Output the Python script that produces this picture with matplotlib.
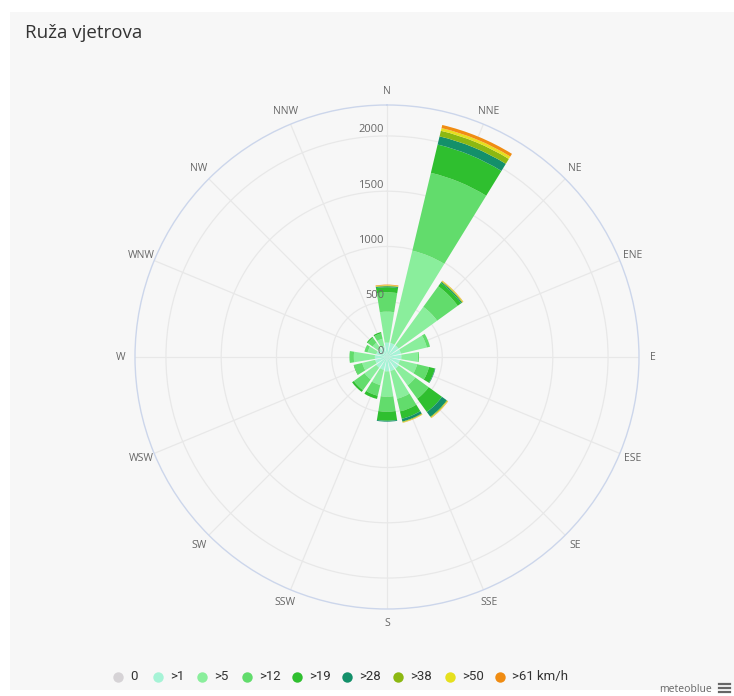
import numpy as np
import matplotlib
matplotlib.use("Agg")
import matplotlib.pyplot as plt
from matplotlib.patches import Rectangle

plt.rcParams['font.family'] = ['Open Sans', 'DejaVu Sans']

directions = ["N", "NNE", "NE", "ENE", "E", "ESE", "SE", "SSE",
              "S", "SSW", "SW", "WSW", "W", "WNW", "NW", "NNW"]
speed_labels = ["0", ">1", ">5", ">12", ">19", ">28", ">38", ">50", ">61 km/h"]
speed_colors = ["#d6d3d6", "#a6f3d6", "#8aee9c", "#62dc6c", "#2fbf2f",
                "#14906a", "#8cb812", "#e6e01e", "#f08c12"]

# hours per direction for each speed class (N ... NNW)
s_0 = [0] * 16
s_1 = [130, 130, 130, 130, 130, 120, 130, 130, 130, 120, 120, 110, 110, 100, 100, 100]
s_5 = [280, 859, 430, 240, 150, 160, 186, 258, 229, 140, 130, 120, 190, 80, 60, 70]
s_12 = [175, 724, 230, 30, 10, 110, 149, 118, 136, 100, 120, 75, 40, 30, 55, 50]
s_19 = [47, 263, 38, 0, 0, 55, 149, 69, 82, 30, 20, 5, 0, 0, 10, 12]
s_28 = [8, 76, 10, 0, 0, 5, 54, 25, 8, 0, 0, 0, 0, 0, 0, 0]
s_38 = [5, 52, 7, 0, 0, 0, 7, 6, 0, 0, 0, 0, 0, 0, 0, 0]
s_50 = [5, 25, 5, 0, 0, 0, 5, 4, 0, 0, 0, 0, 0, 0, 0, 0]
s_61 = [5, 29, 3, 0, 0, 0, 3, 2, 0, 0, 0, 0, 0, 0, 0, 0]
series = [s_0, s_1, s_5, s_12, s_19, s_28, s_38, s_50, s_61]

radial_ticks = [0, 500, 1000, 1500, 2000]
r_max = 2280

W, H = 734, 696
fig = plt.figure(figsize=(W / 100, H / 100), dpi=100)
fig.patch.set_facecolor("white")

# background / overlay axes in pixel coordinates
bg = fig.add_axes([0, 0, 1, 1], zorder=0)
bg.set_xlim(0, W)
bg.set_ylim(H, 0)
bg.axis("off")
bg.add_patch(Rectangle((10, 12), W - 10, 678, facecolor="#f7f7f7", edgecolor="none"))
bg.text(25, 33, "Ruža vjetrova", fontsize=13.5, color="#333333", va="center", ha="left")

# legend
leg_x = [118, 158, 202, 247, 297, 347, 398, 450, 500]
for x, lab, col in zip(leg_x, speed_labels, speed_colors):
    bg.plot([x], [676.5], marker="o", ms=7.5, color=col, mec="none")
    bg.text(x + 12, 676.5, lab, fontsize=9.5, color="#333333", va="center", ha="left",
            family=["Roboto", "DejaVu Sans"])
bg.text(712, 689, "meteoblue", fontsize=7.5, color="#666666", ha="right", va="center")
for dy in (-4, 0, 4):
    bg.plot([719, 730], [688 + dy, 688 + dy], color="#666666", lw=1.6)

# polar axes
cx, cy, R = 387, 357, 252
ax = fig.add_axes([(cx - R) / W, 1 - (cy + R) / H, 2 * R / W, 2 * R / H],
                  projection="polar", zorder=1)
ax.set_facecolor("none")
ax.set_theta_zero_location("N")
ax.set_theta_direction(-1)
ax.set_ylim(0, r_max)

theta = np.deg2rad(np.arange(16) * 22.5)
width = np.deg2rad(18.2)
bottom = np.zeros(16)
for vals, col in zip(series, speed_colors):
    vals = np.array(vals, dtype=float)
    ax.bar(theta, vals, width=width, bottom=bottom, color=col, edgecolor="none",
           linewidth=0, zorder=2)
    bottom += vals

ax.set_axisbelow(True)
ax.set_xticks(theta)
ax.set_xticklabels([])
ax.set_yticks(radial_ticks[1:])
ax.set_yticklabels([])
ax.grid(True, color="#e8e8e8", lw=0.9)
ax.spines["polar"].set_color("#ccd6eb")
ax.spines["polar"].set_linewidth(1.0)
ax.tick_params(length=0)

for t, lab in zip(theta, directions):
    ax.text(t, r_max * 266 / 252, lab, ha="center", va="center", fontsize=7.5,
            color="#666666", clip_on=False)

for v in radial_ticks:
    ax.annotate(str(v), xy=(0, v), xytext=(-3, 6), textcoords="offset pixels",
                ha="right", va="center", fontsize=8, color="#666666", zorder=3)

fig.savefig("out.png", dpi=100, facecolor=fig.get_facecolor())
